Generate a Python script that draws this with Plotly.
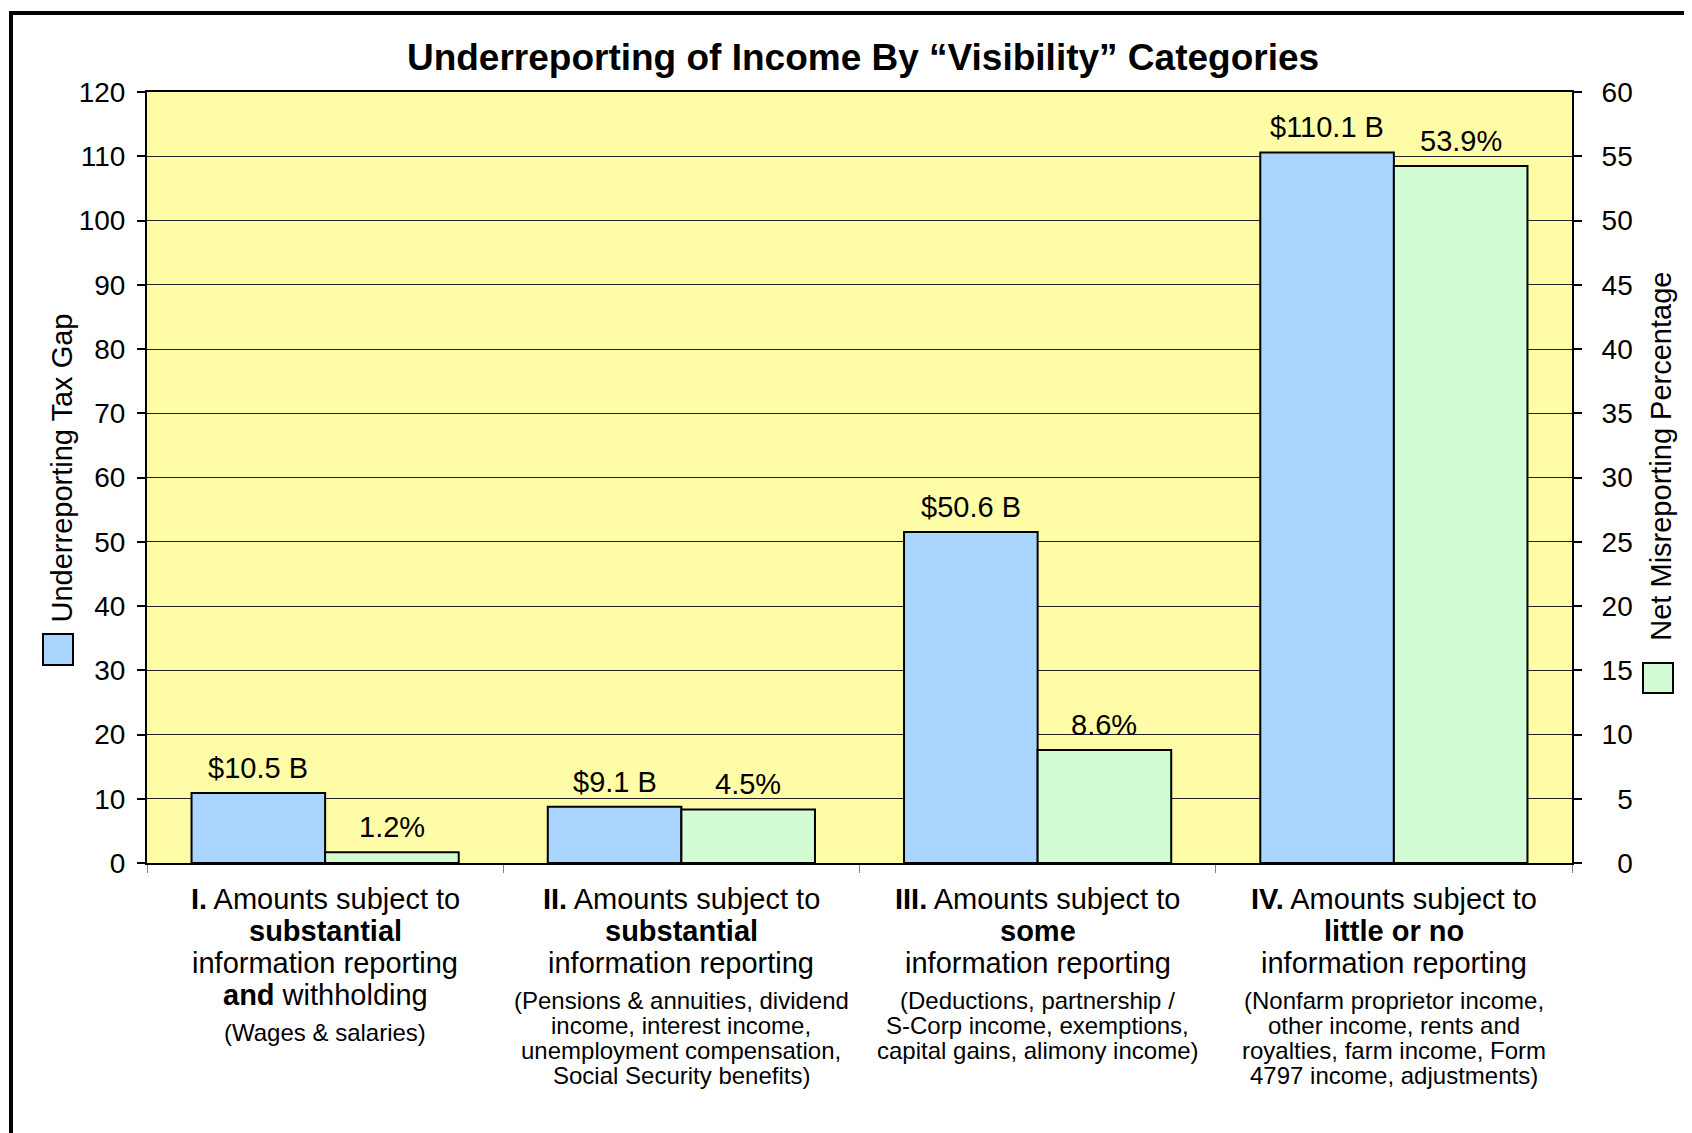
import plotly.graph_objects as go

# ---------------- data ----------------
categories = ["I", "II", "III", "IV"]
gap_values = [10.9, 8.75, 51.5, 110.6]          # Underreporting tax gap ($B), bar heights as drawn
pct_values = [0.83, 4.17, 8.8, 54.25]           # Net misreporting percentage, bar heights as drawn
gap_labels = ["$10.5 B", "$9.1 B", "$50.6 B", "$110.1 B"]
pct_labels = ["1.2%", "4.5%", "8.6%", "53.9%"]

left_ticks = [0, 10, 20, 30, 40, 50, 60, 70, 80, 90, 100, 110, 120]
right_ticks = [0, 5, 10, 15, 20, 25, 30, 35, 40, 45, 50, 55, 60]

main_lines = [
    ["<b>I.</b> Amounts subject to", "<b>substantial</b>", "information reporting", "<b>and</b> withholding"],
    ["<b>II.</b> Amounts subject to", "<b>substantial</b>", "information reporting"],
    ["<b>III.</b> Amounts subject to", "<b>some</b>", "information reporting"],
    ["<b>IV.</b> Amounts subject to", "<b>little or no</b>", "information reporting"],
]
sub_lines = [
    ["(Wages & salaries)"],
    ["(Pensions & annuities, dividend", "income, interest income,", "unemployment compensation,", "Social Security benefits)"],
    ["(Deductions, partnership /", "S-Corp income, exemptions,", "capital gains, alimony income)"],
    ["(Nonfarm proprietor income,", "other income, rents and", "royalties, farm income, Form", "4797 income, adjustments)"],
]

title_text = "Underreporting of Income By \u201cVisibility\u201d Categories"
left_title = "Underreporting Tax Gap"
right_title = "Net Misreporting Percentage"

# ---------------- styling ----------------
FONT = "Liberation Sans, Arial, Helvetica, sans-serif"
BLUE = "#A9D5FF"
GREEN = "#D4FCD4"
YELLOW = "#FFFCA8"
OFF = 8                      # default page body margin
W, H = 1692 - OFF, 1133 - OFF
L, R, T, B = 147 - OFF, 120, 92 - OFF, 270
PW, PH = W - L - R, H - T - B
BAR_W = 0.375
BAR_PX = BAR_W * PW / len(categories)


def px_x(px):
    """page x pixel -> paper coordinate"""
    return (px - OFF - L) / PW


def px_y(py):
    """page y pixel -> paper coordinate"""
    return (H - B - (py - OFF)) / PH


fig = go.Figure()
fig.add_trace(go.Bar(
    x=categories, y=gap_values, name=left_title, yaxis="y",
    width=BAR_W, offset=-BAR_W,
    marker=dict(color=BLUE, line=dict(color="black", width=2)),
))
fig.add_trace(go.Bar(
    x=categories, y=pct_values, name=right_title, yaxis="y2",
    width=BAR_W, offset=0,
    marker=dict(color=GREEN, line=dict(color="black", width=2)),
))

annotations = []
# value labels
for i, c in enumerate(categories):
    annotations.append(dict(x=c, y=gap_values[i], xref="x", yref="y", text=gap_labels[i],
                            showarrow=False, xshift=-BAR_PX / 2, yshift=25, yanchor="middle",
                            font=dict(family=FONT, size=29, color="black")))
    annotations.append(dict(x=c, y=pct_values[i], xref="x", yref="y2", text=pct_labels[i],
                            showarrow=False, xshift=BAR_PX / 2, yshift=25, yanchor="middle",
                            font=dict(family=FONT, size=29, color="black")))

# category labels (one annotation per line)
MAIN_Y0, MAIN_DY, SUB_GAP, SUB_DY = 899, 32.0, 37.0, 25.2
for i, c in enumerate(categories):
    y = MAIN_Y0
    for j, line in enumerate(main_lines[i]):
        y = MAIN_Y0 + j * MAIN_DY
        annotations.append(dict(x=c, y=px_y(y), xref="x", yref="paper", text=line,
                                showarrow=False, xanchor="center", yanchor="middle",
                                font=dict(family=FONT, size=29, color="black")))
    y0 = y + SUB_GAP
    for j, line in enumerate(sub_lines[i]):
        annotations.append(dict(x=c, y=px_y(y0 + j * SUB_DY), xref="x", yref="paper", text=line,
                                showarrow=False, xanchor="center", yanchor="middle",
                                font=dict(family=FONT, size=24, color="black")))

# axis titles
annotations.append(dict(x=px_x(61), y=px_y(468.5), xref="paper", yref="paper", text=left_title,
                        textangle=-90, showarrow=False, xanchor="center", yanchor="middle",
                        font=dict(family=FONT, size=29, color="black")))
annotations.append(dict(x=px_x(1661), y=px_y(456.7), xref="paper", yref="paper", text=right_title,
                        textangle=-90, showarrow=False, xanchor="center", yanchor="middle",
                        font=dict(family=FONT, size=29, color="black")))

shapes = [
    # legend keys
    dict(type="rect", xref="paper", yref="paper", x0=px_x(43), x1=px_x(73), y0=px_y(665), y1=px_y(634),
         fillcolor=BLUE, line=dict(color="black", width=2)),
    dict(type="rect", xref="paper", yref="paper", x0=px_x(1643), x1=px_x(1673), y0=px_y(693), y1=px_y(663),
         fillcolor=GREEN, line=dict(color="black", width=2)),
    # outer frame (left and top)
    dict(type="line", xref="paper", yref="paper", x0=px_x(11), x1=px_x(11), y0=px_y(11), y1=px_y(1140),
         line=dict(color="black", width=4)),
    dict(type="line", xref="paper", yref="paper", x0=px_x(9), x1=px_x(1700), y0=px_y(13), y1=px_y(13),
         line=dict(color="black", width=4)),
]

right_text = [f"{v:>2}".replace(" ", "\u2007") for v in right_ticks]

fig.update_layout(
    width=W, height=H,
    margin=dict(l=L, r=R, t=T, b=B, pad=0),
    paper_bgcolor="white",
    plot_bgcolor=YELLOW,
    barmode="overlay",
    showlegend=False,
    font=dict(family=FONT, size=28, color="black"),
    title=dict(text=title_text, x=px_x(863), xref="paper", xanchor="center",
               y=1 - (57 - OFF) / H, yref="container", yanchor="middle",
               font=dict(family=FONT, size=37, color="black", weight="bold")),
    xaxis=dict(type="category", range=[-0.5, 3.5], showticklabels=False,
               ticks="outside", tickson="boundaries", ticklen=8, tickwidth=1, tickcolor="#808080",
               showline=True, linecolor="black", linewidth=2, mirror=True, showgrid=False),
    yaxis=dict(range=[0, 120], tickvals=left_ticks, ticks="outside", ticklen=8, tickwidth=2,
               tickcolor="black", showline=True, linecolor="black", linewidth=2,
               showgrid=True, gridcolor="#222222", gridwidth=1, zeroline=False,
               tickfont=dict(family=FONT, size=28, color="black"), ticklabelstandoff=6),
    yaxis2=dict(range=[0, 60], overlaying="y", side="right", tickvals=right_ticks, ticktext=right_text,
                ticks="outside", ticklen=8, tickwidth=2, tickcolor="black",
                showline=True, linecolor="black", linewidth=2, showgrid=False, zeroline=False,
                tickfont=dict(family=FONT, size=28, color="black"), ticklabelstandoff=14),
    annotations=annotations,
    shapes=shapes,
)

fig.write_html("out.html")
